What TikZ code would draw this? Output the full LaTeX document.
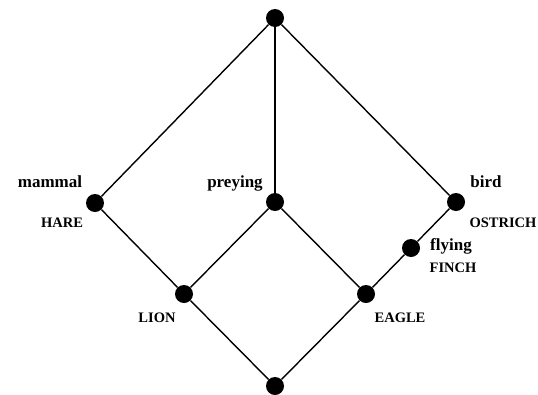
\documentclass[tikz,border=0pt]{standalone}
\usepackage{fontspec}
\setmainfont{Liberation Serif}
\begin{document}
\begin{tikzpicture}[x=1pt,y=-1pt,
  dot/.style={circle,fill=black,inner sep=0pt,minimum size=18pt},
  edge/.style={line width=1.4pt},
  lo/.style={anchor=base,inner sep=0pt,font=\fontsize{17}{19}\selectfont\bfseries},
  up/.style={anchor=base,inner sep=0pt,font=\fontsize{14.5}{16}\selectfont\bfseries}]
\useasboundingbox (0,0) rectangle (538,394);
\node[dot] (top) at (275,18) {};
\node[dot] (mam) at (95,203) {};
\node[dot] (pre) at (275,202) {};
\node[dot] (bir) at (456,202) {};
\node[dot] (fly) at (411,248) {};
\node[dot] (lio) at (184,294) {};
\node[dot] (eag) at (366,294) {};
\node[dot] (bot) at (275,386) {};
\draw[edge] (top) -- (mam);
\draw[edge] (top) -- (pre);
\draw[edge] (top) -- (bir);
\draw[edge] (mam) -- (lio);
\draw[edge] (pre) -- (lio);
\draw[edge] (pre) -- (eag);
\draw[edge] (bir) -- (fly);
\draw[edge] (fly) -- (eag);
\draw[edge] (lio) -- (bot);
\draw[edge] (eag) -- (bot);
\node[lo] (lmam) at (50,187) {mammal};
\node[up] (lhare) at (62,227) {HARE};
\node[lo] (lpre) at (235,187) {preying};
\node[lo] (lbir) at (486,187) {bird};
\node[up] (lost) at (503,227) {OSTRICH};
\node[lo] (lfly) at (451,250) {flying};
\node[up] (lfin) at (453,272) {FINCH};
\node[up] (llio) at (157,322) {LION};
\node[up] (leag) at (400,322) {EAGLE};
\end{tikzpicture}
\end{document}
